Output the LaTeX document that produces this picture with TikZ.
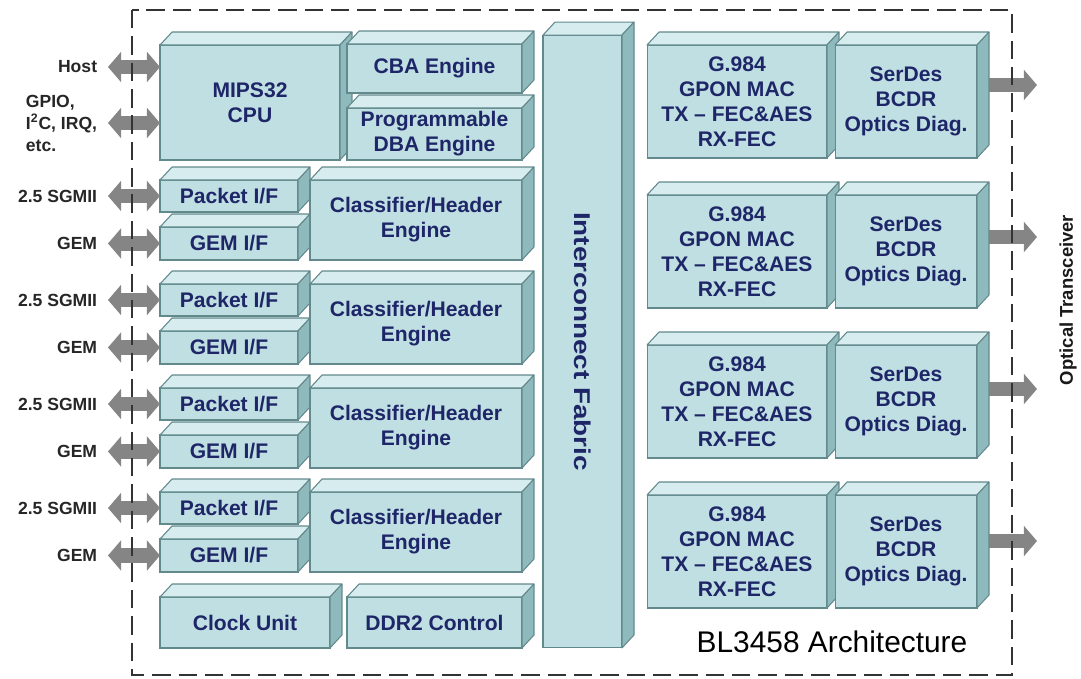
\documentclass[tikz,border=0pt]{standalone}
\usepackage{fontspec}
\setmainfont{Liberation Sans}
\usetikzlibrary{arrows.meta,backgrounds}

\definecolor{facec}{HTML}{BFDFE2}
\definecolor{topc}{HTML}{D6ECEE}
\definecolor{sidec}{HTML}{8FBABD}
\definecolor{edgec}{HTML}{62898C}
\definecolor{txtc}{HTML}{1E2668}
\definecolor{arrc}{HTML}{858585}

% top and side face of a block
\newcommand{\faces}[1]{%
  \filldraw[topf] (#1.north west) -- ++(12,-13) -- ([shift={(12,-13)}]#1.north east) -- (#1.north east) -- cycle;
  \filldraw[sidef] (#1.north east) -- ++(12,-13) -- ([shift={(12,-13)}]#1.south east) -- (#1.south east) -- cycle;}

\begin{document}
\begin{tikzpicture}[x=0.02cm, y=-0.02cm,
    blk/.style={draw=edgec, fill=facec, line width=0.6pt, inner sep=0pt, outer sep=0pt,
      align=center, text=txtc, font=\bfseries\fontsize{12}{14.2}\selectfont},
    topf/.style={draw=edgec, fill=topc, line width=0.6pt, line join=round},
    sidef/.style={draw=edgec, fill=sidec, line width=0.6pt, line join=round},
    lbl/.style={anchor=east, inner xsep=6pt, inner ysep=0pt, align=left,
      text=black!85, font=\bfseries\fontsize{10}{12.5}\selectfont},
    dbl/.style={arrc, line width=8pt,
      {Triangle[width=17pt,length=7.5pt]}-{Triangle[width=17pt,length=7.5pt]}}]
    \useasboundingbox (0,0) rectangle (1081,679);

    % cpu corner
    \node[blk, minimum width=3.6cm, minimum height=2.3cm] (mips) at (250,102.5) {MIPS32\\CPU};
    \faces{mips}
    \node[blk, minimum width=3.5cm, minimum height=0.98cm] (cba) at (434.5,68.5) {CBA Engine};
    \faces{cba}
    \node[blk, minimum width=3.5cm, minimum height=1.04cm] (dba) at (434.5,134) {Programmable\\DBA Engine};
    \faces{dba}

    % interface groups
    \foreach \k in {0,...,3}{
        \node[blk, minimum width=2.76cm, minimum height=0.64cm] (pkt\k) at (229,{196+104*\k}) {Packet I/F};
        \faces{pkt\k}
        \node[blk, minimum width=2.76cm, minimum height=0.66cm] (gem\k) at (229,{243.5+104*\k}) {GEM I/F};
        \faces{gem\k}
        \node[blk, minimum width=4.24cm, minimum height=1.6cm] (cls\k) at (416,{220+104*\k}) {Classifier/Header\\Engine};
        \faces{cls\k}
    }

    \node[blk, minimum width=3.4cm, minimum height=1.02cm] (clk) at (245,622.5) {Clock Unit};
    \faces{clk}
    \node[blk, minimum width=3.5cm, minimum height=1.02cm] (ddr) at (434.5,622.5) {DDR2 Control};
    \faces{ddr}

    \node[blk, minimum width=1.58cm, minimum height=12.26cm] (fab) at (582.5,341.5) {};
    \faces{fab}
    \node[rotate=-90, text=txtc, font=\bfseries\fontsize{13}{15}\selectfont] (fabtxt) at (fab.center)
        {\scalebox{1.22}[1]{Interconnect Fabric}};

    % gpon side
    \foreach \k in {0,...,3}{
        \node[blk, minimum width=3.6cm, minimum height=2.26cm] (mac\k) at (737,{101.5+150*\k})
            {G.984\\GPON MAC\\TX -- FEC\&AES\\RX-FEC};
        \faces{mac\k}
        \node[blk, minimum width=2.84cm, minimum height=2.26cm] (ser\k) at (906,{101.5+150*\k})
            {SerDes\\BCDR\\Optics Diag.};
        \faces{ser\k}
        \coordinate (tx\k) at (1037,{85+152*\k});
    }
    \begin{pgfonlayer}{background}
        \foreach \k in {0,...,3}
            \draw[dbl] ([xshift=-0.1cm]ser\k.east |- tx\k) -- (tx\k);
    \end{pgfonlayer}

    % left side ports
    \node[lbl] (host) at (108,67) {Host};
    \node[lbl] (gpio) at (108,123) {GPIO,\\I\textsuperscript{2}C, IRQ,\\etc.};
    \draw[dbl] (host.east) -- (mips.west |- host.east);
    \draw[dbl] (gpio.east) -- (mips.west |- gpio.east);
    \foreach \k in {0,...,3}{
        \node[lbl] (sg\k) at (108,{196+104*\k}) {2.5 SGMII};
        \node[lbl] (gm\k) at (108,{243.5+104*\k}) {GEM};
        \draw[dbl] (sg\k.east) -- (pkt\k.west);
        \draw[dbl] (gm\k.east) -- (gem\k.west);
    }

    \node[rotate=90, text=black!90, font=\bfseries\fontsize{10.5}{12}\selectfont] (optx) at (1068,300) {Optical Transceiver};
    \node[text=black, font=\fontsize{17}{20}\selectfont] (title) at (832,642) {BL3458 Architecture};

    % chip border
    \draw[black!80, line width=1.1pt, dash pattern=on 10.5pt off 4.5pt] (132,10) rectangle (1012,675);
\end{tikzpicture}
\end{document}
